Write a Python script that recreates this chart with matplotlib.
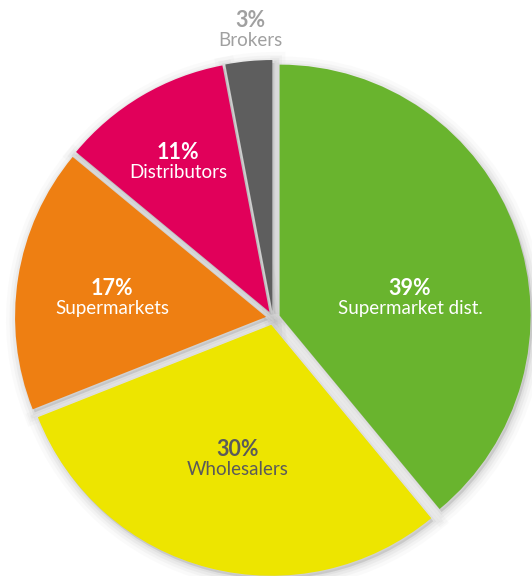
import matplotlib.pyplot as plt

labels = ["Supermarket dist.", "Wholesalers", "Supermarkets", "Distributors", "Brokers"]
shares = [39, 30, 17, 11, 3]
colors = ["#69b42e", "#ede500", "#ee7f12", "#e1005a", "#5e5e5e"]
text_colors = ["white", "#5a5a5a", "white", "white", "#a0a0a0"]
# label anchor points in pixel coordinates (x, y from top)
label_pos = [(410, 300), (238, 461), (112, 300), (178, 164), (250, 32)]

W, H = 532, 576
fig = plt.figure(figsize=(W / 100, H / 100), dpi=100)
ax = fig.add_axes([0, 0, 1, 1])

cx, cy, r = 273, H - 318, 251
explode = [7] * len(shares)  # offset in data units (pixels)

# soft grey shadow under the slices
for lw, a in [(16, 0.035), (11, 0.05), (7, 0.07), (3, 0.09)]:
    ax.pie(shares, startangle=90, counterclock=False, explode=explode,
           center=(cx + 2, cy - 3), radius=r, frame=True,
           colors=["#808080"] * len(shares),
           wedgeprops=dict(edgecolor="#808080", linewidth=lw, alpha=a))

ax.pie(shares, startangle=90, counterclock=False, explode=explode,
       center=(cx, cy), radius=r, frame=True, colors=colors,
       wedgeprops=dict(linewidth=0))

ax.set_xlim(0, W)
ax.set_ylim(0, H)
ax.set_aspect("equal")
ax.axis("off")

for lab, val, col, (x, y) in zip(labels, shares, text_colors, label_pos):
    ax.text(x, H - y + 1, f"{val}%", ha="center", va="bottom", color=col,
            fontsize=15.5, fontweight="bold", family="Lato")
    ax.text(x, H - y, lab, ha="center", va="top", color=col,
            fontsize=13.5, family="Lato")

fig.savefig("out.png", dpi=100)
